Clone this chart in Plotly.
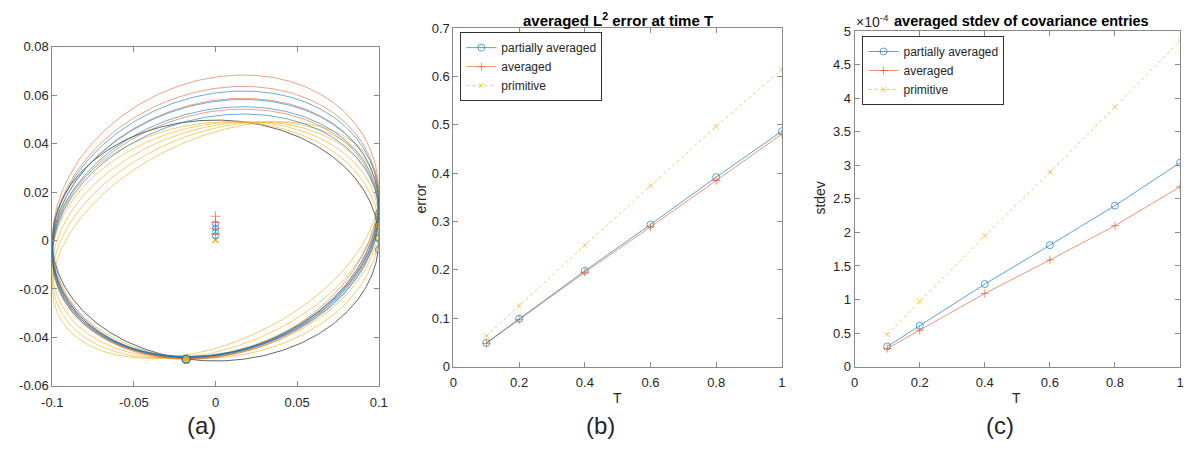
import numpy as np
import plotly.graph_objects as go

W, H = 1194, 450

# ---------------- data ----------------
# panel (a): ellipse families (centre y, top point x, top point y)
orange_c = [0.0100, 0.0075, 0.0050, 0.0026]
orange_top_y = [0.0683, 0.0636, 0.0587, 0.0542]
blue_c = [0.0068, 0.0052, 0.0036, 0.0020]
blue_top_y = [0.0617, 0.0582, 0.0552, 0.0522]
yellow_c = [0.0002, 0.0002, 0.0002, 0.0002, 0.0002]
yellow_top_x = [0.008, 0.016, 0.024, 0.032, 0.040]
yellow_top_y = [0.0490, 0.0490, 0.0490, 0.0490, 0.0490]
black_c = [0.0]
black_top_x = [0.0]
black_top_y = [0.0497]
family_top_x = 0.017
half_width = 0.1
right_marks_y = [0.0110, 0.0062, 0.0010, -0.0038]
start_point = (-0.0180, -0.0490)

# panel (b)
T = [0.1, 0.2, 0.4, 0.6, 0.8, 1.0]
err_partial = [0.049, 0.099, 0.198, 0.294, 0.392, 0.487]
err_averaged = [0.048, 0.097, 0.195, 0.289, 0.385, 0.481]
err_primitive = [0.063, 0.126, 0.251, 0.374, 0.497, 0.615]

# panel (c)  (units of 1e-4)
sd_partial = [0.30, 0.61, 1.23, 1.81, 2.40, 3.04]
sd_averaged = [0.27, 0.54, 1.09, 1.59, 2.10, 2.68]
sd_primitive = [0.48, 0.97, 1.95, 2.90, 3.87, 4.86]

a_xticks = [-0.1, -0.05, 0, 0.05, 0.1]
a_xtick_text = ["-0.1", "-0.05", "0", "0.05", "0.1"]
a_yticks = [-0.06, -0.04, -0.02, 0, 0.02, 0.04, 0.06, 0.08]
a_ytick_text = ["-0.06", "-0.04", "-0.02", "0", "0.02", "0.04", "0.06", "0.08"]
T_ticks = [0, 0.2, 0.4, 0.6, 0.8, 1]
T_tick_text = ["0", "0.2", "0.4", "0.6", "0.8", "1"]
b_yticks = [0, 0.1, 0.2, 0.3, 0.4, 0.5, 0.6, 0.7]
b_ytick_text = ["0", "0.1", "0.2", "0.3", "0.4", "0.5", "0.6", "0.7"]
c_yticks = [0, 0.5, 1, 1.5, 2, 2.5, 3, 3.5, 4, 4.5, 5]
c_ytick_text = ["0", "0.5", "1", "1.5", "2", "2.5", "3", "3.5", "4", "4.5", "5"]

# ---------------- style ----------------
BLUE = "rgba(0,114,189,0.65)"
ORANGE = "rgba(217,83,25,0.60)"
YELLOW = "rgba(237,177,32,0.70)"
BLACK = "rgba(40,40,40,0.80)"
FONT = "Liberation Sans, Arial, sans-serif"
TXT = "#262626"
AX = "#8a8a8a"

fig = go.Figure()


def ellipse(c, xt, yt):
    t = np.linspace(0, 2 * np.pi, 400)
    h = yt - c
    ay = xt * h / half_width
    by = np.sqrt(h * h - ay * ay)
    return half_width * np.cos(t), c + ay * np.cos(t) + by * np.sin(t)


def add_family(cs, xts, yts, color):
    for c, xt, yt in zip(cs, xts, yts):
        x, y = ellipse(c, xt, yt)
        fig.add_trace(go.Scatter(x=x, y=y, mode="lines", line=dict(color=color, width=0.9),
                                 showlegend=False, hoverinfo="skip", xaxis="x", yaxis="y"))


add_family(black_c, black_top_x, black_top_y, BLACK)
add_family(yellow_c, yellow_top_x, yellow_top_y, YELLOW)
add_family(orange_c, [family_top_x] * len(orange_c), orange_top_y, ORANGE)
add_family(blue_c, [family_top_x] * len(blue_c), blue_top_y, BLUE)


def open_marks(x, y, symbol, size, color):
    fig.add_trace(go.Scatter(x=x, y=y, mode="markers", showlegend=False, hoverinfo="skip",
                             marker=dict(symbol=symbol, size=size, color=color, line=dict(color=color, width=1)),
                             xaxis="x", yaxis="y"))


# centre markers
open_marks([0] * len(yellow_c), yellow_c, "x-thin-open", 6, YELLOW)
open_marks([0] * len(blue_c), blue_c, "circle-open", 6, BLUE)
open_marks([0] * len(orange_c), orange_c, "cross-thin-open", 7, ORANGE)
# right-edge markers
open_marks([half_width] * len(right_marks_y), right_marks_y, "circle-open", 7, BLUE)
open_marks([half_width] * len(right_marks_y), right_marks_y, "circle-open", 5, YELLOW)
# start point
fig.add_trace(go.Scatter(x=[start_point[0]], y=[start_point[1]], mode="markers", showlegend=False,
                         marker=dict(symbol="circle", size=8, color="rgba(237,177,32,0.9)",
                                     line=dict(color="rgba(0,114,189,0.8)", width=1.5)),
                         xaxis="x", yaxis="y"))


def add_series(xa, ya, yvals, name, color, symbol, dash, legend, msize):
    fig.add_trace(go.Scatter(x=T, y=yvals, name=name, mode="lines+markers",
                             line=dict(color=color, width=1, dash=dash),
                             marker=dict(symbol=symbol, size=msize, color=color, line=dict(color=color, width=1)),
                             xaxis=xa, yaxis=ya, legend=legend))


add_series("x2", "y2", err_partial, "partially averaged", BLUE, "circle-open", "solid", "legend", 7)
add_series("x2", "y2", err_averaged, "averaged", ORANGE, "cross-thin-open", "solid", "legend", 6)
add_series("x2", "y2", err_primitive, "primitive", YELLOW, "x-thin-open", "dot", "legend", 5)
add_series("x3", "y3", sd_partial, "partially averaged", BLUE, "circle-open", "solid", "legend2", 7)
add_series("x3", "y3", sd_averaged, "averaged", ORANGE, "cross-thin-open", "solid", "legend2", 6)
add_series("x3", "y3", sd_primitive, "primitive", YELLOW, "x-thin-open", "dot", "legend2", 5)


def px_x(p):
    return p / W


def px_y(p):
    return 1 - p / H


def axis(domain, rng, vals, text):
    return dict(domain=domain, range=rng, tickvals=vals, ticktext=text, showline=True, mirror="ticks",
                linecolor=AX, linewidth=1, ticks="inside", ticklen=5, tickcolor=AX, showgrid=False,
                zeroline=False, tickfont=dict(family=FONT, size=13, color=TXT), fixedrange=True)


legend_style = dict(xanchor="left", yanchor="top", bgcolor="white",
                    bordercolor="#333", borderwidth=1, font=dict(family=FONT, size=12, color=TXT),
                    tracegroupgap=0, itemwidth=30)

layout = dict(
    width=W, height=H, margin=dict(l=0, r=0, t=0, b=0),
    paper_bgcolor="white", plot_bgcolor="white",
    font=dict(family=FONT, color=TXT),
    xaxis=axis([px_x(42), px_x(374)], [-0.1, 0.1], a_xticks, a_xtick_text),
    yaxis=axis([px_y(392), px_y(41)], [-0.06, 0.08], a_yticks, a_ytick_text),
    xaxis2=axis([px_x(450), px_x(784)], [0, 1], T_ticks, T_tick_text),
    yaxis2=axis([px_y(372), px_y(22)], [0, 0.7], b_yticks, b_ytick_text),
    xaxis3=axis([px_x(858), px_x(1189)], [0, 1], T_ticks, T_tick_text),
    yaxis3=axis([px_y(372), px_y(25)], [0, 5], c_yticks, c_ytick_text),
    legend=dict(x=px_x(457), y=px_y(26), **legend_style),
    legend2=dict(x=px_x(866), y=px_y(30), **legend_style),
)
fig.update_layout(**layout)
for ax in ["xaxis", "xaxis2", "xaxis3"]:
    fig.layout[ax].ticklabelstandoff = 4
fig.update_layout(xaxis2_anchor="y2", yaxis2_anchor="x2", xaxis3_anchor="y3", yaxis3_anchor="x3")


def note(text, x, y, size, bold=False, angle=0, xanchor="center"):
    if bold:
        text = "<b>" + text + "</b>"
    fig.add_annotation(text=text, x=px_x(x), y=px_y(y), xref="paper", yref="paper", showarrow=False,
                       xanchor=xanchor, yanchor="middle", textangle=angle,
                       font=dict(family=FONT, size=size, color="black" if bold else TXT))


note("averaged L<sup>2</sup> error at time T", 617, 13, 15, bold=True)
note("averaged stdev of covariance entries", 1028, 15, 14.5, bold=True)
note("×10<sup>-4</sup>", 857, 15, 14, xanchor="left")
note("error", 417, 198, 14, angle=-90)
note("stdev", 823, 198, 14, angle=-90)
note("T", 617, 404, 14)
note("T", 1023, 404, 14)
note("(a)", 194, 433, 24)
note("(b)", 600, 433, 24)
note("(c)", 1006, 433, 24)

fig.write_html("out.html")
